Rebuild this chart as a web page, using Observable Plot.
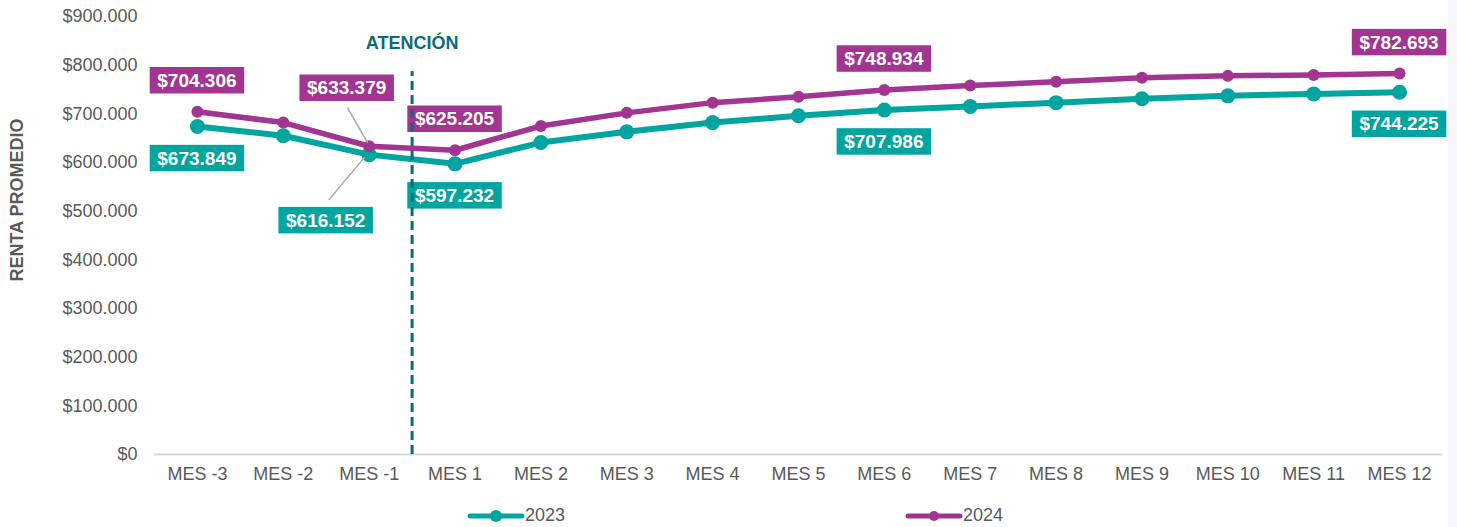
<!DOCTYPE html>
<html>
<head>
<meta charset="utf-8">
<script src="https://cdn.jsdelivr.net/npm/d3@7"></script>
<script src="https://cdn.jsdelivr.net/npm/@observablehq/plot@0.6"></script>
<style>
  html, body { margin: 0; padding: 0; background: #ffffff; }
  body { width: 1457px; height: 527px; position: relative; overflow: hidden; font-family: "Liberation Sans", Arial, sans-serif; }
  #edge { position: absolute; left: 1448px; top: 0; width: 9px; height: 527px; background: #f7f6fa; }
  #ytitle { position: absolute; left: 17px; top: 200px; transform: translate(-50%, -50%) rotate(-90deg); white-space: nowrap; font-weight: bold; font-size: 18px; color: #595959; }
  #chart { position: absolute; left: 0; top: 0; }
  #legend { position: absolute; left: 0; top: 504px; width: 1457px; height: 23px; }
  .item { position: absolute; top: 0; display: flex; align-items: center; font-size: 18px; color: #595959; height: 23px; }
</style>
</head>
<body>
<div id="edge"></div>
<div id="chart"></div>
<div id="ytitle">RENTA PROMEDIO</div>
<div id="legend"></div>
<script>
// ---- data ----
const months = ["MES -3","MES -2","MES -1","MES 1","MES 2","MES 3","MES 4","MES 5","MES 6","MES 7","MES 8","MES 9","MES 10","MES 11","MES 12"];
const values2023 = [673849, 655000, 616152, 597232, 641000, 663000, 682000, 696000, 707986, 715000, 723000, 731000, 737000, 741000, 744225];
const values2024 = [704306, 682000, 633379, 625205, 675000, 702000, 723000, 735000, 748934, 758000, 766000, 774000, 778000, 780000, 782693];
const seriesNames = ["2023", "2024"];
const labeledMonths = ["MES -3", "MES -1", "MES 1", "MES 6", "MES 12"];
const yTicks = [0, 100000, 200000, 300000, 400000, 500000, 600000, 700000, 800000, 900000];
const attentionText = "ATENCIÓN";
const attentionAfter = "MES -1"; // dashed line between MES -1 and MES 1

// ---- styles ----
const teal = "#00a59f";
const purple = "#a23592";
const darkTeal = "#0b6c78";
const grayText = "#595959";
const font = "Liberation Sans, Arial, sans-serif";

const idx = months.map((_, i) => i);
const rows = [];
seriesNames.forEach((s, k) => {
  const vals = k === 0 ? values2023 : values2024;
  vals.forEach((v, i) => rows.push({series: s, i, month: months[i], value: v}));
});
const rows2023 = rows.filter(d => d.series === "2023");
const rows2024 = rows.filter(d => d.series === "2024");
const attentionX = months.indexOf(attentionAfter) + 0.5;

const locale = d3.formatLocale({decimal: ",", thousands: ".", grouping: [3], currency: ["$", ""]});
const fmt = locale.format("$,");

// label offsets (pixels) relative to points
const labelOffsets = {
  "2024": {default: [0, -31], "MES -1": [-22, -58]},
  "2023": {default: [0, 32], "MES -1": [-43, 66]}
};

function labelMark(data, color) {
  return (index, scales) => {
    const g = d3.create("svg:g");
    data.filter(d => labeledMonths.includes(d.month)).forEach(d => {
      const off = labelOffsets[d.series][d.month] || labelOffsets[d.series].default;
      const cx = scales.x(d.i) + off[0];
      const cy = scales.y(d.value) + off[1];
      g.append("rect")
        .attr("x", cx - 48).attr("y", cy - 14)
        .attr("width", 96).attr("height", 28)
        .attr("fill", color).attr("stroke", "#ffffff").attr("stroke-width", 1.5);
      g.append("text")
        .attr("x", cx).attr("y", cy)
        .attr("dy", "0.35em")
        .attr("text-anchor", "middle")
        .attr("fill", "#ffffff")
        .attr("font-weight", "bold")
        .attr("font-size", 19)
        .attr("font-family", font)
        .text(fmt(d.value));
    });
    return g.node();
  };
}

function leaderMark() {
  return (index, scales) => {
    const g = d3.create("svg:g");
    const i = months.indexOf("MES -1");
    const px = scales.x(i);
    const p24 = scales.y(values2024[i]);
    const p23 = scales.y(values2023[i]);
    g.append("line").attr("x1", px - 1).attr("y1", p24 - 3).attr("x2", px - 21).attr("y2", p24 - 38)
      .attr("stroke", "#a6a6a6").attr("stroke-width", 1.5);
    g.append("line").attr("x1", px - 4).attr("y1", p23 + 3).attr("x2", px - 40).attr("y2", p23 + 46)
      .attr("stroke", "#a6a6a6").attr("stroke-width", 1.5);
    return g.node();
  };
}

const chart = Plot.plot({
  width: 1457,
  height: 500,
  marginLeft: 154,
  marginRight: 15,
  marginTop: 16,
  marginBottom: 46,
  style: {fontFamily: font, background: "transparent", overflow: "visible"},
  x: {type: "linear", domain: [-0.5, months.length - 0.5], axis: null},
  y: {domain: [0, 900000], axis: null},
  marks: [
    Plot.axisY({ticks: yTicks, tickFormat: fmt, tickSize: 0, tickPadding: 17, fontSize: 18, color: grayText, label: null}),
    Plot.axisX({ticks: idx, tickFormat: i => months[i], tickSize: 0, tickPadding: 13, fontSize: 18, color: grayText, label: null}),
    Plot.ruleY([0], {stroke: "#d9d9d9", strokeWidth: 2}),
    Plot.text([attentionText], {x: attentionX, y: 846000, text: d => d, fill: darkTeal, fontWeight: "bold", fontSize: 18}),
    Plot.line(rows2023, {x: "i", y: "value", stroke: teal, strokeWidth: 6}),
    Plot.dot(rows2023, {x: "i", y: "value", fill: teal, r: 7.5}),
    Plot.line(rows2024, {x: "i", y: "value", stroke: purple, strokeWidth: 5.5}),
    Plot.dot(rows2024, {x: "i", y: "value", fill: purple, r: 6}),
    leaderMark(),
    labelMark(rows2024, purple),
    labelMark(rows2023, teal),
    Plot.ruleX([attentionX], {y1: 0, y2: 793000, stroke: darkTeal, strokeWidth: 3, strokeDasharray: "9,5", insetBottom: -3})
  ]
});
document.getElementById("chart").appendChild(chart);

// legend
const legend = d3.select("#legend");
const legendPos = {"2023": 467, "2024": 905};
seriesNames.forEach((s, k) => {
  const color = k === 0 ? teal : purple;
  const item = legend.append("div").attr("class", "item").style("left", legendPos[s] + "px");
  const sw = item.append("svg").attr("width", 58).attr("height", 23);
  sw.append("line").attr("x1", 3).attr("x2", 55).attr("y1", 12).attr("y2", 12)
    .attr("stroke", color).attr("stroke-width", 5).attr("stroke-linecap", "round");
  sw.append("circle").attr("cx", 29).attr("cy", 12).attr("r", k === 0 ? 6 : 5).attr("fill", color);
  item.append("span").text(s);
});
</script>
</body>
</html>
